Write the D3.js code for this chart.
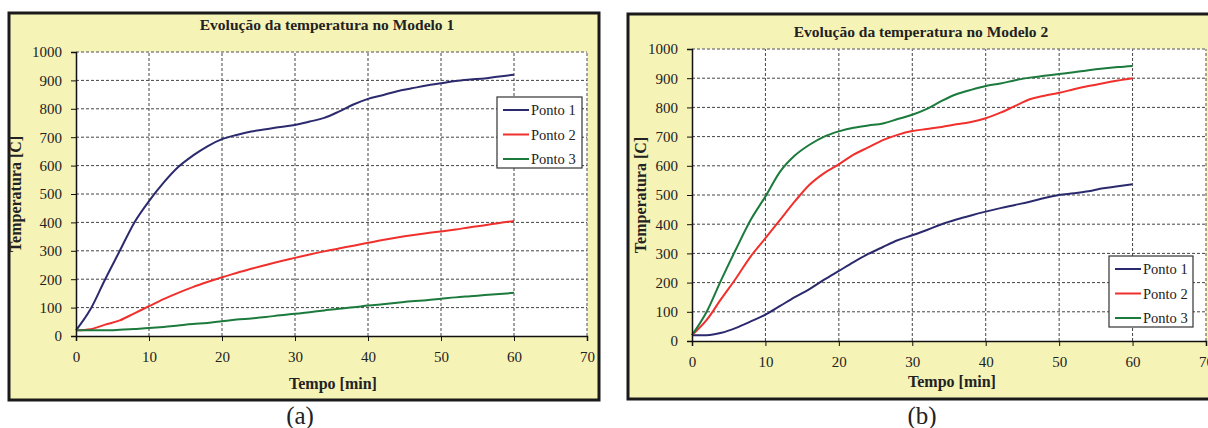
<!DOCTYPE html>
<html>
<head>
<meta charset="utf-8">
<script src="https://cdn.jsdelivr.net/npm/d3@7"></script>
<style>
  html, body { margin: 0; padding: 0; background: #ffffff; }
  svg { display: block; }
  text { font-family: "Liberation Serif", "Times New Roman", serif; fill: #222; }
</style>
</head>
<body>
<svg id="chart" width="1208" height="428"></svg>
<script>
// Time axis (minutes)
const minutes = d3.range(0, 61, 2);
const xTicks = [0, 10, 20, 30, 40, 50, 60, 70];
const yTicks = [0, 100, 200, 300, 400, 500, 600, 700, 800, 900, 1000];
const seriesNames = ["Ponto 1", "Ponto 2", "Ponto 3"];
const seriesColors = ["#2b2a6e", "#f0302c", "#1b7a3c"];

// Modelo 1 temperatures [C]
const modelo1Ponto1 = [20,95,200,300,400,475,540,595,635,668,693,708,720,728,736,743,755,768,790,815,835,848,862,872,882,890,898,903,907,914,920];
const modelo1Ponto2 = [20,24,40,55,80,105,130,152,172,190,207,222,237,250,263,275,287,298,308,318,328,338,347,355,362,368,375,383,390,398,405];
const modelo1Ponto3 = [20,20,20,22,25,28,32,37,42,46,52,58,62,67,73,78,84,90,96,101,107,112,117,122,126,131,136,140,144,148,152];

// Modelo 2 temperatures [C]
const modelo2Ponto1 = [20,20,28,45,67,90,120,150,178,210,240,270,298,322,345,362,380,400,416,430,443,455,466,477,490,500,506,513,523,530,537];
const modelo2Ponto2 = [20,72,145,215,290,352,415,478,535,575,605,638,663,688,706,719,726,733,742,750,763,782,805,828,840,850,862,873,883,892,900];
const modelo2Ponto3 = [20,100,210,315,415,495,580,635,672,700,718,730,738,745,760,775,795,822,845,860,873,882,893,902,908,914,920,927,933,938,942];

const svg = d3.select("#chart");
const SERIF = "Liberation Serif, Times New Roman, serif";

function drawPanel(cfg) {
  const g = svg.append("g");

  // panel background and border
  g.append("rect")
    .attr("x", cfg.box[0]).attr("y", cfg.box[1])
    .attr("width", cfg.box[2]).attr("height", cfg.box[3])
    .attr("fill", "#f6f3b7").attr("stroke", "#1a1a1a").attr("stroke-width", 3);

  const x = d3.scaleLinear().domain([0, 70]).range([cfg.plot.left, cfg.plot.right]);
  const y = d3.scaleLinear().domain([0, 1000]).range([cfg.plot.bottom, cfg.plot.top]);

  // plot area
  g.append("rect")
    .attr("x", x(0)).attr("y", y(1000))
    .attr("width", x(70) - x(0)).attr("height", y(0) - y(1000))
    .attr("fill", "#ffffff");

  // dashed grid
  g.append("g").selectAll("line").data(xTicks.filter(d => d > 0)).join("line")
    .attr("x1", d => x(d)).attr("x2", d => x(d))
    .attr("y1", y(0)).attr("y2", y(1000))
    .attr("stroke", d => d === 70 ? "#888" : "#444")
    .attr("stroke-width", d => d === 70 ? 1.5 : 1)
    .attr("stroke-dasharray", "3,2");
  g.append("g").selectAll("line").data(yTicks.filter(d => d > 0)).join("line")
    .attr("x1", x(0)).attr("x2", x(70))
    .attr("y1", d => y(d)).attr("y2", d => y(d))
    .attr("stroke", d => d === 1000 ? "#888" : "#444")
    .attr("stroke-width", d => d === 1000 ? 1.5 : 1)
    .attr("stroke-dasharray", "3,2");

  // series lines
  const line = d3.line()
    .x((d, i) => x(minutes[i]))
    .y(d => y(d))
    .curve(d3.curveMonotoneX);
  cfg.series.forEach((vals, k) => {
    g.append("path").datum(vals)
      .attr("d", line)
      .attr("fill", "none")
      .attr("stroke", seriesColors[k])
      .attr("stroke-width", 2);
  });

  // axes
  const xAxis = g.append("g")
    .attr("transform", `translate(0,${y(0)})`)
    .call(d3.axisBottom(x).tickValues(xTicks).tickSize(5).tickPadding(10).tickFormat(d3.format("d")));
  const yAxis = g.append("g")
    .attr("transform", `translate(${x(0)},0)`)
    .call(d3.axisLeft(y).tickValues(yTicks).tickSize(5).tickPadding(9).tickFormat(d3.format("d")));
  [xAxis, yAxis].forEach(a => {
    a.attr("font-family", SERIF);
    a.select(".domain").attr("stroke", "#111").attr("stroke-width", 1.5);
    a.selectAll(".tick line").attr("stroke", "#111");
    a.selectAll("text")
      .attr("font-family", SERIF)
      .attr("font-size", 15)
      .attr("fill", "#222");
  });

  // titles
  g.append("text")
    .attr("x", cfg.titleX).attr("y", cfg.titleY)
    .attr("text-anchor", "middle")
    .attr("font-weight", "bold").attr("font-size", 15.5)
    .text(cfg.title);
  g.append("text")
    .attr("x", cfg.xLabelX).attr("y", cfg.xLabelY)
    .attr("text-anchor", "middle")
    .attr("font-weight", "bold").attr("font-size", 16)
    .text("Tempo [min]");
  g.append("text")
    .attr("transform", `translate(${cfg.yLabelX},${(y(0) + y(1000)) / 2}) rotate(-90)`)
    .attr("text-anchor", "middle")
    .attr("font-weight", "bold").attr("font-size", 16)
    .text("Temperatura [C]");

  // legend
  const lg = g.append("g");
  lg.append("rect")
    .attr("x", cfg.legend[0]).attr("y", cfg.legend[1])
    .attr("width", cfg.legend[2]).attr("height", cfg.legend[3])
    .attr("fill", "#ffffff").attr("stroke", "#333").attr("stroke-width", 1.2);
  seriesNames.forEach((name, k) => {
    const ly = cfg.legend[1] + 13 + k * 24.5;
    lg.append("line")
      .attr("x1", cfg.legend[0] + 6).attr("x2", cfg.legend[0] + 32)
      .attr("y1", ly).attr("y2", ly)
      .attr("stroke", seriesColors[k]).attr("stroke-width", 2);
    lg.append("text")
      .attr("x", cfg.legend[0] + 34).attr("y", ly + 5)
      .attr("font-size", 14.5)
      .text(name);
  });

  // caption
  svg.append("text")
    .attr("x", cfg.captionX).attr("y", 424)
    .attr("text-anchor", "middle")
    .attr("font-size", 25)
    .text(cfg.caption);
}

drawPanel({
  box: [9, 13, 590, 387],
  plot: { left: 76, right: 587, top: 52, bottom: 336 },
  series: [modelo1Ponto1, modelo1Ponto2, modelo1Ponto3],
  title: "Evolução da temperatura no Modelo 1",
  titleX: 327, titleY: 30,
  xLabelX: 333, xLabelY: 389,
  yLabelX: 21,
  legend: [497, 97, 85, 71],
  caption: "(a)", captionX: 300
});

drawPanel({
  box: [628, 14, 600, 385],
  plot: { left: 692, right: 1206, top: 49, bottom: 341 },
  series: [modelo2Ponto1, modelo2Ponto2, modelo2Ponto3],
  title: "Evolução da temperatura no Modelo 2",
  titleX: 921, titleY: 37,
  xLabelX: 952, xLabelY: 387,
  yLabelX: 646,
  legend: [1109, 256, 84, 71],
  caption: "(b)", captionX: 922
});
</script>
</body>
</html>
